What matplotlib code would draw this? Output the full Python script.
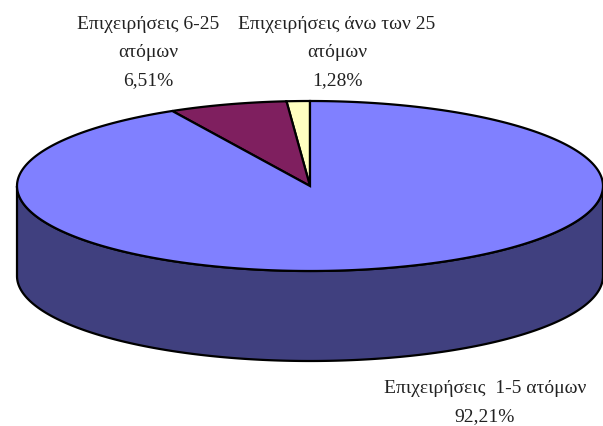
import numpy as np
import matplotlib
matplotlib.use('Agg')
import matplotlib.pyplot as plt

plt.rcParams['font.family'] = ['Liberation Serif', 'DejaVu Serif']

# shares in percent, counterclockwise from 12 o'clock
labels = ['Επιχειρήσεις άνω των 25\nατόμων\n1,28%',
          'Επιχειρήσεις 6-25\nατόμων\n6,51%',
          'Επιχειρήσεις  1-5 ατόμων\n92,21%']
shares = [1.28, 6.51, 92.21]
top_colors = ['#ffffc0', '#7f1f5f', '#8080ff']
side_colors = ['#80805f', '#400f30', '#40407f']

# pie geometry in pixels
cx, cy = 310, 186
rx, ry = 293, 85
depth = 90


def arc(a0, a1):
    t = np.radians(np.linspace(a0, a1, 300))
    return cx + rx * np.cos(t), cy - ry * np.sin(t)


fig = plt.figure(figsize=(6.03, 4.26), dpi=100)
ax = fig.add_axes([0, 0, 1, 1])
ax.set_xlim(0, 603)
ax.set_ylim(426, 0)
ax.axis('off')

angles = 90 + np.cumsum([0] + shares) * 3.6

# side wall, only the front half of the ellipse shows
for i in range(len(shares)):
    a0 = max(angles[i], 180)
    a1 = min(angles[i + 1], 360)
    if a1 > a0:
        x, y = arc(a0, a1)
        ax.fill(np.r_[x, x[::-1]], np.r_[y, y[::-1] + depth],
                color=side_colors[i], ec='black', lw=1.6)

# top face
for i in range(len(shares)):
    x, y = arc(angles[i], angles[i + 1])
    ax.fill(np.r_[cx, x], np.r_[cy, y], fc=top_colors[i], ec='black', lw=1.6)

ax.text(337, 16, labels[0], ha='center', va='top', fontsize=14, linespacing=1.85, color='#222222')
ax.text(148, 16, labels[1], ha='center', va='top', fontsize=14, linespacing=1.85, color='#222222')
ax.text(485, 380, labels[2], ha='center', va='top', fontsize=14, linespacing=1.85, color='#222222')

fig.savefig('out.png', dpi=100)
